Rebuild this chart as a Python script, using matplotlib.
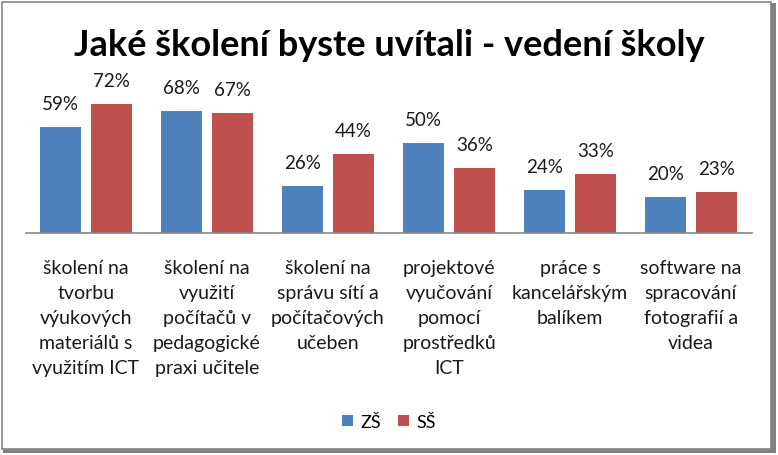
import matplotlib
matplotlib.use("Agg")
import matplotlib.pyplot as plt
import numpy as np
from matplotlib.patches import Rectangle

categories = [
    "školení na\ntvorbu\nvýukových\nmateriálů s\nvyužitím ICT",
    "školení na\nvyužití\npočítačů v\npedagogické\npraxi učitele",
    "školení na\nsprávu sítí a\npočítačových\nučeben",
    "projektové\nvyučování\npomocí\nprostředků\nICT",
    "práce s\nkancelářským\nbalíkem",
    "software na\nspracování\nfotografií a\nvidea",
]
zs = [59, 68, 26, 50, 24, 20]
ss = [72, 67, 44, 36, 33, 23]
series_names = ["ZŠ", "SŠ"]
title = "Jaké školení byste uvítali - vedení školy"

W, H = 778, 456
fig = plt.figure(figsize=(W / 100, H / 100), dpi=100)
fig.patch.set_facecolor("white")

# border with shadow
fig.patches.append(Rectangle((3 / W, 2 / H), 773 / W, 450 / H, transform=fig.transFigure,
                             facecolor="#808080", edgecolor="none", zorder=0))
fig.patches.append(Rectangle((2 / W, 6 / H), 769 / W, 447 / H, transform=fig.transFigure,
                             facecolor="white", edgecolor="#868686", linewidth=1.2, zorder=1))

base_y = 234
top_y = 234 - 80 * 1.792
left_x, right_x = 25.5, 751.5
ax = fig.add_axes([left_x / W, 1 - base_y / H, (right_x - left_x) / W, (base_y - top_y) / H])
ax.set_zorder(2)
ax.patch.set_visible(False)

blue = "#4F81BD"
red = "#C0504D"
x = np.arange(len(categories))
bw = 0.34
off = 0.21
ax.bar(x - off, zs, bw, color=blue, label=series_names[0])
ax.bar(x + off, ss, bw, color=red, label=series_names[1])

font = "Lato"
for xs, vals in ((x - off, zs), (x + off, ss)):
    for xi, v in zip(xs, vals):
        ax.annotate(f"{v}%", (xi, v), xytext=(0, 11), textcoords="offset points",
                    ha="center", va="bottom", fontsize=13.5, family=font, color="#1a1a1a")

ax.set_xlim(-0.5, len(categories) - 0.5)
ax.set_ylim(0, 80)
for s in ["top", "right", "left"]:
    ax.spines[s].set_visible(False)
ax.spines["bottom"].set_color("#868686")
ax.spines["bottom"].set_linewidth(1.2)
ax.set_yticks([])
ax.set_xticks(x)
ax.set_xticklabels(categories, fontsize=14, family=font, linespacing=1.56, color="#1a1a1a")
ax.tick_params(axis="x", length=0, pad=19)

fig.text(0.5, 1 - 45 / H, title, ha="center", va="center", fontsize=26, fontweight="bold",
         family=font, color="black", zorder=3)

leg = fig.legend(loc="center", bbox_to_anchor=(0.5, 1 - 423 / H), ncol=2, frameon=False,
                 prop={"family": font, "size": 13}, handlelength=0.6, handleheight=0.6,
                 handletextpad=0.45, columnspacing=0.9)

fig.savefig("out.png", dpi=100)
